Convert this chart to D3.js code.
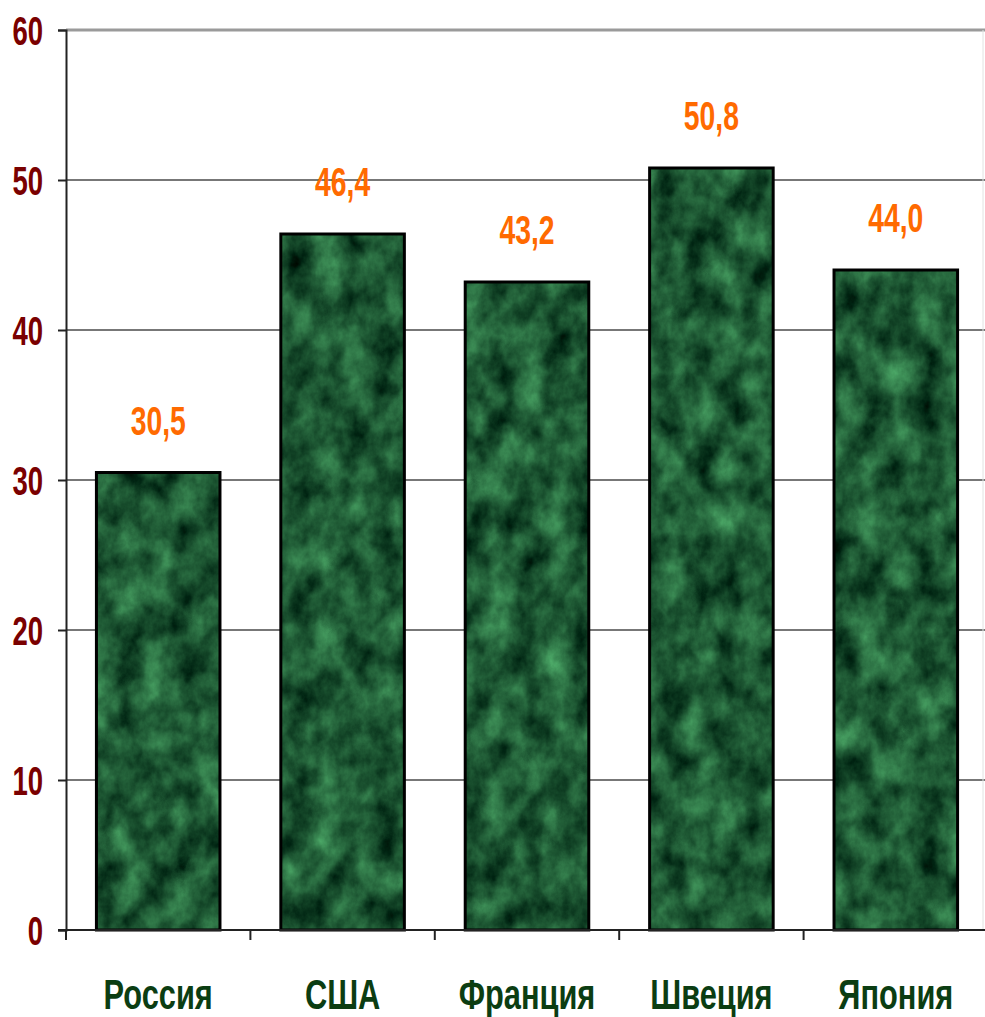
<!DOCTYPE html>
<html>
<head>
<meta charset="utf-8">
<script src="https://cdn.jsdelivr.net/npm/d3@7"></script>
<style>
  html, body { margin: 0; padding: 0; background: #fff; }
  svg { display: block; }
  text { font-family: "Liberation Sans", Arial, sans-serif; font-weight: bold; }
</style>
</head>
<body>
<script>
// Countries and their values
const countries = ["Россия", "США", "Франция", "Швеция", "Япония"];
const values = [30.5, 46.4, 43.2, 50.8, 44.0];
const valueLabels = ["30,5", "46,4", "43,2", "50,8", "44,0"];
const yTicks = [0, 10, 20, 30, 40, 50, 60];

const W = 985, H = 1017;
const plot = { left: 66, right: 988, top: 30, bottom: 930 };
const narrow = 0.81; // horizontal squeeze for a condensed look

const svg = d3.select("body").append("svg").attr("width", W).attr("height", H);

// Green marble texture for the bars
const defs = svg.append("defs");
const marble = defs.append("filter").attr("id", "marble")
  .attr("x", 0).attr("y", 0).attr("width", 1).attr("height", 1)
  .attr("color-interpolation-filters", "sRGB");
marble.append("feTurbulence").attr("type", "fractalNoise")
  .attr("baseFrequency", "0.035 0.028").attr("numOctaves", 5).attr("seed", 4).attr("result", "noise");
marble.append("feColorMatrix").attr("in", "noise").attr("type", "matrix")
  .attr("values", "0.4 0 0 0 -0.08  0.7 0 0 0 0.0  0.45 0 0 0 -0.02  0 0 0 0 1");

const x = d3.scaleBand().domain(countries).range([plot.left, plot.right])
  .paddingInner(0.33).paddingOuter(0.165);
const y = d3.scaleLinear().domain([0, 60]).range([plot.bottom, plot.top]);

// Gridlines
svg.append("g").selectAll("line").data(yTicks.filter(t => t > 0 && t < 60)).join("line")
  .attr("x1", plot.left).attr("x2", W)
  .attr("y1", d => y(d)).attr("y2", d => y(d))
  .attr("stroke", "#4a4a4a").attr("stroke-width", 1.6);
svg.append("line")
  .attr("x1", plot.left).attr("x2", W).attr("y1", y(60)).attr("y2", y(60))
  .attr("stroke", "#9a9a9a").attr("stroke-width", 3);
svg.append("line")
  .attr("x1", 983).attr("x2", 983).attr("y1", y(60)).attr("y2", plot.bottom)
  .attr("stroke", "#e2e2e2").attr("stroke-width", 1);

// Y axis
const yAxis = svg.append("g").attr("transform", `translate(${plot.left},0)`)
  .call(d3.axisLeft(y).tickValues(yTicks).tickSize(8).tickFormat(""));
yAxis.select(".domain").attr("stroke", "#222").attr("stroke-width", 2);
yAxis.selectAll(".tick line").attr("stroke", "#222").attr("stroke-width", 2);

svg.append("g").selectAll("text").data(yTicks).join("text")
  .attr("transform", d => `translate(43,${y(d)}) scale(${narrow},1.22)`)
  .attr("y", 12)
  .attr("text-anchor", "end")
  .attr("font-size", 34)
  .attr("fill", "#7a0000")
  .text(d => d);

// Bars
const bars = svg.append("g").selectAll("g").data(countries).join("g");
bars.append("rect")
  .attr("x", d => x(d)).attr("width", x.bandwidth())
  .attr("y", (d, i) => y(values[i])).attr("height", (d, i) => y(0) - y(values[i]))
  .attr("filter", "url(#marble)");
bars.append("rect")
  .attr("x", d => x(d)).attr("width", x.bandwidth())
  .attr("y", (d, i) => y(values[i])).attr("height", (d, i) => y(0) - y(values[i]))
  .attr("fill", "none").attr("stroke", "#000").attr("stroke-width", 3);

// X axis
svg.append("line")
  .attr("x1", plot.left - 8).attr("x2", plot.right).attr("y1", plot.bottom).attr("y2", plot.bottom)
  .attr("stroke", "#222").attr("stroke-width", 2);
svg.append("g").selectAll("line").data(d3.range(countries.length + 1)).join("line")
  .attr("x1", i => plot.left + i * x.step()).attr("x2", i => plot.left + i * x.step())
  .attr("y1", plot.bottom).attr("y2", plot.bottom + 10)
  .attr("stroke", "#222").attr("stroke-width", 2);

svg.append("g").selectAll("text").data(countries).join("text")
  .attr("transform", d => `translate(${x(d) + x.bandwidth() / 2},1009) scale(${narrow},1.1)`)
  .attr("text-anchor", "middle")
  .attr("font-size", 38)
  .attr("fill", "#0b3d12")
  .text(d => d);

// Value labels
svg.append("g").selectAll("text").data(countries).join("text")
  .attr("transform", (d, i) => `translate(${x(d) + x.bandwidth() / 2},${y(values[i]) - 38}) scale(${narrow},1.15)`)
  .attr("text-anchor", "middle")
  .attr("font-size", 35)
  .attr("fill", "#ff6a00")
  .text((d, i) => valueLabels[i]);
</script>
</body>
</html>
